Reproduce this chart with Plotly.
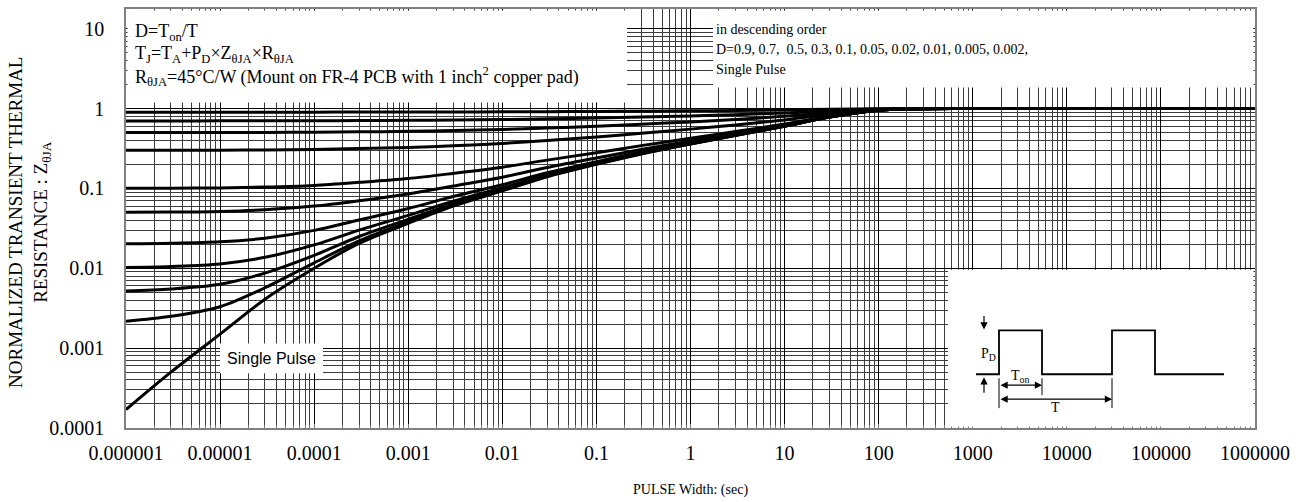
import plotly.graph_objects as go

# ---------------- data ----------------
pulse_width = [1e-6, 3e-6, 1e-5, 3e-5, 1e-4, 3e-4, 1e-3, 3e-3, 1e-2, 3e-2,
               1e-1, 3e-1, 1, 3, 10, 30, 100, 300, 1e3, 1e4, 1e5, 1e6]

z_d090 = [0.900, 0.900, 0.9002, 0.9004, 0.901, 0.902, 0.904, 0.906, 0.909, 0.914,
          0.920, 0.927, 0.936, 0.946, 0.960, 0.978, 0.995, 0.999, 1.0, 1.0, 1.0, 1.0]
z_d070 = [0.700, 0.7002, 0.7005, 0.7013, 0.703, 0.706, 0.711, 0.718, 0.728, 0.742,
          0.760, 0.781, 0.808, 0.838, 0.880, 0.934, 0.985, 0.998, 1.0, 1.0, 1.0, 1.0]
z_d050 = [0.5001, 0.5003, 0.5008, 0.502, 0.505, 0.510, 0.518, 0.530, 0.546, 0.570,
          0.600, 0.635, 0.680, 0.730, 0.800, 0.890, 0.975, 0.997, 1.0, 1.0, 1.0, 1.0]
z_d030 = [0.3001, 0.3004, 0.301, 0.303, 0.307, 0.315, 0.326, 0.342, 0.365, 0.398,
          0.440, 0.489, 0.552, 0.622, 0.720, 0.846, 0.965, 0.996, 1.0, 1.0, 1.0, 1.0]
z_d010 = [0.1002, 0.1005, 0.1014, 0.1038, 0.109, 0.119, 0.133, 0.154, 0.184, 0.226,
          0.280, 0.343, 0.424, 0.514, 0.640, 0.802, 0.955, 0.995, 1.0, 1.0, 1.0, 1.0]
z_d005 = [0.0502, 0.0505, 0.0514, 0.054, 0.060, 0.070, 0.085, 0.107, 0.138, 0.183,
          0.240, 0.307, 0.392, 0.487, 0.620, 0.791, 0.952, 0.995, 1.0, 1.0, 1.0, 1.0]
z_d002 = [0.0202, 0.0205, 0.0214, 0.0238, 0.0298, 0.0402, 0.056, 0.079, 0.111, 0.157,
          0.216, 0.285, 0.373, 0.471, 0.608, 0.784, 0.951, 0.995, 1.0, 1.0, 1.0, 1.0]
z_d001 = [0.0102, 0.0105, 0.0113, 0.0137, 0.0196, 0.030, 0.046, 0.069, 0.102, 0.149,
          0.208, 0.277, 0.366, 0.465, 0.604, 0.782, 0.951, 0.995, 1.0, 1.0, 1.0, 1.0]
z_d0005 = [0.0052, 0.0055, 0.0063, 0.0087, 0.0145, 0.025, 0.041, 0.064, 0.098, 0.144,
           0.204, 0.274, 0.363, 0.463, 0.602, 0.781, 0.950, 0.995, 1.0, 1.0, 1.0, 1.0]
z_d0002 = [0.00217, 0.0025, 0.0033, 0.0057, 0.0117, 0.022, 0.038, 0.061, 0.095, 0.142,
           0.202, 0.271, 0.361, 0.461, 0.601, 0.780, 0.950, 0.995, 1.0, 1.0, 1.0, 1.0]
z_single = [1.7e-4, 5.0e-4, 1.5e-3, 4.1e-3, 0.0100, 0.0205, 0.0365, 0.060, 0.093, 0.140,
            0.200, 0.270, 0.360, 0.460, 0.600, 0.780, 0.950, 0.995, 1.0, 1.0, 1.0, 1.0]

series = [z_d090, z_d070, z_d050, z_d030, z_d010, z_d005, z_d002, z_d001,
          z_d0005, z_d0002, z_single]
series_names = ["D=0.9", "D=0.7", "D=0.5", "D=0.3", "D=0.1", "D=0.05", "D=0.02",
                "D=0.01", "D=0.005", "D=0.002", "Single Pulse"]

x_tickvals = [1e-6, 1e-5, 1e-4, 1e-3, 1e-2, 1e-1, 1, 10, 100, 1e3, 1e4, 1e5, 1e6]
x_ticktext = ["0.000001", "0.00001", "0.0001", "0.001", "0.01", "0.1", "1", "10",
              "100", "1000", "10000", "100000", "1000000"]
y_tickvals = [1e-4, 1e-3, 1e-2, 1e-1, 1, 10]
y_ticktext = ["0.0001", "0.001", "0.01", "0.1", "1", "10"]

# ---------------- figure ----------------
W, H = 1307, 502
L, R, T, B = 126, 1255, 7, 428


def pxx(x):
    return (x - L) / (R - L)


def pxy(y):
    return (B - y) / (B - T)


minor_x = [k * 10.0 ** e for e in range(-6, 6) for k in range(2, 10)]
minor_y = [k * 10.0 ** e for e in range(-4, 2) for k in range(2, 10)]

fig = go.Figure()
for ys, nm in zip(series, series_names):
    fig.add_trace(go.Scatter(
        x=pulse_width, y=ys, name=nm, mode="lines",
        line=dict(color="black", width=3, shape="spline", smoothing=0.9),
        hoverinfo="skip"))

serif = "Liberation Serif, Times New Roman, serif"

axis_common = dict(
    type="log", showgrid=True, gridcolor="#000000", gridwidth=1.1,
    zeroline=False, showline=True, linecolor="#808080", linewidth=1.5,
    mirror=True, tickmode="array",
    tickfont=dict(family=serif, size=20, color="black"),
)

fig.update_xaxes(
    **axis_common, range=[-6, 6], tickvals=x_tickvals, ticktext=x_ticktext,
    ticks="inside", ticklen=4, tickcolor="#777", ticklabelstandoff=6,
    minor=dict(tickvals=minor_x, showgrid=True, gridcolor="#3c3c3c", gridwidth=1,
               ticks="inside", ticklen=3, tickcolor="#777"),
)
fig.update_yaxes(
    **axis_common, range=[-4, 1.246], tickvals=y_tickvals, ticktext=y_ticktext,
    ticks="", ticklabelstandoff=16,
    minor=dict(tickvals=minor_y, showgrid=True, gridcolor="#3c3c3c", gridwidth=1,
               ticks=""),
)

shapes = []
# white boxes that hide the grid (kept just inside the frame)
for (x0, x1, y0, y1) in [(127.5, 627, 8.5, 101), (713, 1253.5, 8.5, 86),
                         (220, 323, 343, 373), (948, 1253.5, 269, 426.5)]:
    shapes.append(dict(type="rect", xref="paper", yref="paper",
                       x0=pxx(x0), x1=pxx(x1), y0=pxy(y1), y1=pxy(y0),
                       fillcolor="white", line=dict(width=0), layer="above"))

# pulse waveform in the inset
wave = [(976, 374), (999, 374), (999, 330), (1042, 330), (1042, 374), (1112, 374),
        (1112, 330), (1155, 330), (1155, 374), (1224, 374)]
path = "M " + " L ".join(f"{pxx(a):.5f},{pxy(b):.5f}" for a, b in wave)
shapes.append(dict(type="path", xref="paper", yref="paper", path=path,
                   line=dict(color="black", width=1.8), layer="above"))
for (xx, ya, yb) in [(999, 378, 408), (1042, 378, 395), (1112, 378, 408)]:
    shapes.append(dict(type="line", xref="paper", yref="paper",
                       x0=pxx(xx), x1=pxx(xx), y0=pxy(ya), y1=pxy(yb),
                       line=dict(color="black", width=1), layer="above"))

annotations = []


def text_ann(x, y, txt, size, family=serif, xanchor="left"):
    annotations.append(dict(xref="paper", yref="paper", x=pxx(x), y=pxy(y),
                            text=txt, showarrow=False, xanchor=xanchor,
                            yanchor="middle",
                            font=dict(family=family, size=size, color="black")))


text_ann(133, 31, "D=T<sub>on</sub>/T", 18)
text_ann(133, 53, "T<sub>J</sub>=T<sub>A</sub>+P<sub>D</sub>×Z<sub>θJA</sub>×R<sub>θJA</sub>", 18)
text_ann(133, 75, "R<sub>θJA</sub>=45°C/W (Mount on FR-4 PCB with 1 inch<sup>2</sup> copper pad)", 18)

text_ann(714, 28, "in descending order", 14)
text_ann(714, 48, "D=0.9, 0.7,\u00a0 0.5, 0.3, 0.1, 0.05, 0.02, 0.01, 0.005, 0.002,", 14)
text_ann(714, 68, "Single Pulse", 14)

text_ann(271, 358, "Single Pulse", 16, family="Liberation Sans, Arial, sans-serif",
         xanchor="center")

text_ann(989, 354, "P<sub>D</sub>", 14, xanchor="center")
text_ann(1020, 376, "T<sub>on</sub>", 14, xanchor="center")
text_ann(1055, 407, "T", 14, xanchor="center")

# arrows in the inset
for (hx, hy, ax, ay, side) in [(1042, 385, -43, 0, "end+start"),
                               (1112, 399, -113, 0, "end+start"),
                               (984, 329, 0, -15, "end"),
                               (984, 377, 0, 17, "end")]:
    annotations.append(dict(xref="paper", yref="paper", x=pxx(hx), y=pxy(hy),
                            ax=ax, ay=ay, axref="pixel", ayref="pixel", text="",
                            showarrow=True, arrowhead=2, arrowsize=1.2,
                            arrowwidth=1.2, arrowcolor="black", arrowside=side,
                            standoff=0, startstandoff=0))

# axis titles
annotations.append(dict(xref="paper", yref="paper", x=pxx(690), y=pxy(490),
                        text="PULSE Width: (sec)", showarrow=False,
                        xanchor="center", yanchor="middle",
                        font=dict(family=serif, size=14, color="black")))
annotations.append(dict(xref="paper", yref="paper", x=pxx(30), y=pxy(222),
                        text="NORMALIZED TRANSIENT THERMAL<br>RESISTANCE : Z<sub>θJA</sub>",
                        showarrow=False, textangle=-90,
                        xanchor="center", yanchor="middle",
                        font=dict(family=serif, size=19, color="black")))

fig.update_layout(
    width=W, height=H, margin=dict(l=L, r=W - R, t=T, b=H - B),
    paper_bgcolor="white", plot_bgcolor="white", showlegend=False,
    shapes=shapes, annotations=annotations,
)

fig.write_html("out.html")
